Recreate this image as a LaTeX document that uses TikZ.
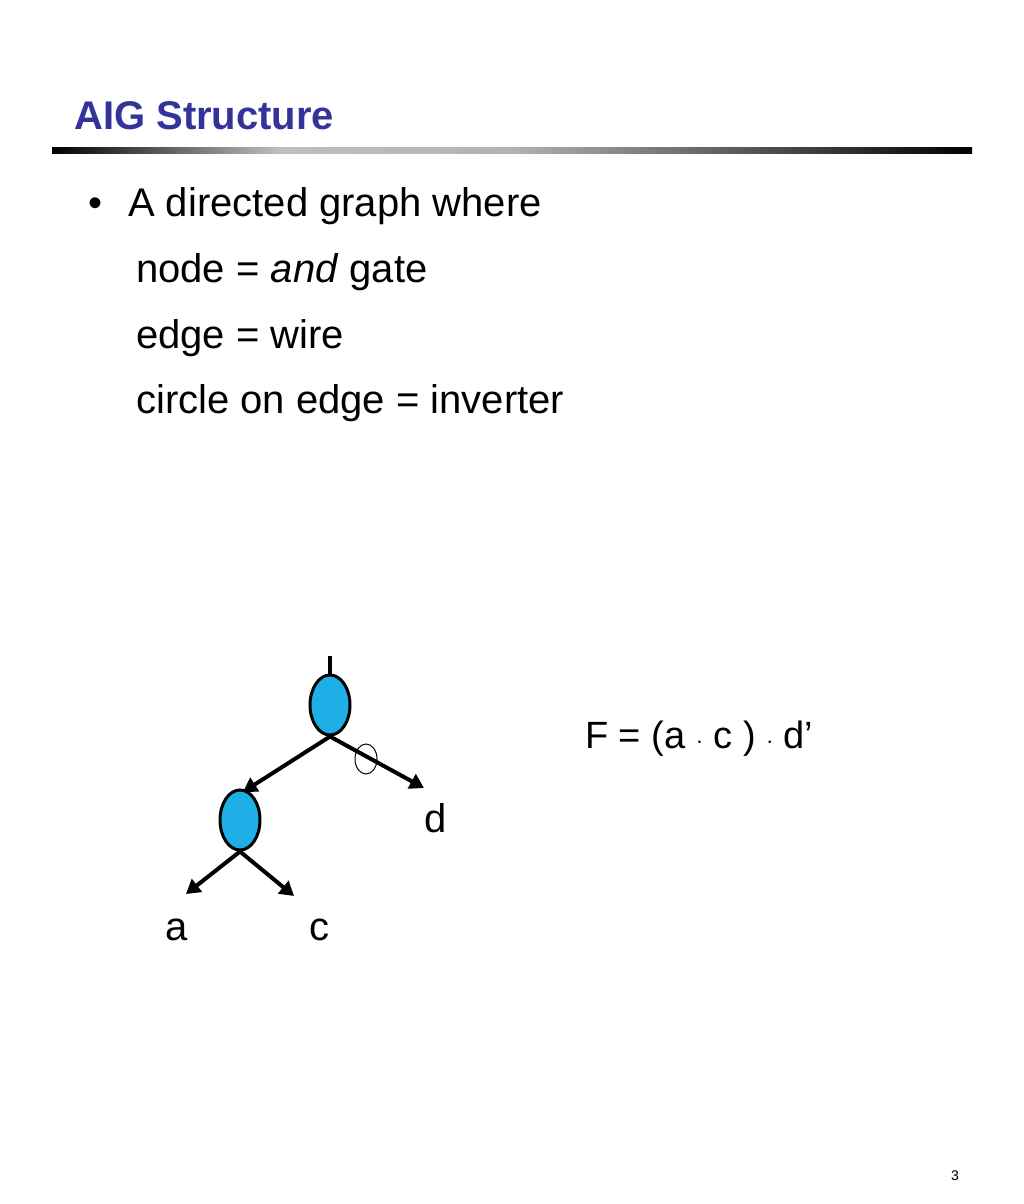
\documentclass[tikz,border=0pt]{standalone}
\usepackage{fontspec}
\setmainfont{Liberation Sans}
\usetikzlibrary{arrows.meta,shapes.geometric}
\definecolor{ttl}{RGB}{51,51,153}
\definecolor{gate}{RGB}{30,175,230}
\begin{document}
\begin{tikzpicture}[x=1pt,y=-1pt,
  gatenode/.style={draw=black,line width=3pt,fill=gate,ellipse,minimum width=40pt,minimum height=60pt,inner sep=0pt},
  edge/.style={line width=4pt,-{Triangle[length=14pt,width=16pt]}},
  big/.style={font=\fontsize{40}{48}\selectfont,anchor=base west,inner sep=0pt}]
\useasboundingbox (0,0) rectangle (1024,1204);
\node[anchor=base west,inner sep=0pt,text=ttl,font=\fontsize{40}{48}\selectfont\bfseries] (title) at (74,130) {AIG Structure};
\shade[left color=black,right color=gray!60,middle color=gray!50] (52,147) rectangle (512,153);
\shade[left color=gray!60,right color=black] (511,147) rectangle (972,153);
\node[big] (b) at (88,216) {•};
\node[big] (l1) at (128,216) {A directed graph where};
\node[big] (l2) at (136,282) {node = \textit{and} gate};
\node[big] (l3) at (136,348) {edge = wire};
\node[big] (l4) at (136,413) {circle on edge = inverter};
\node[gatenode] (g1) at (330,705) {};
\node[gatenode] (g2) at (240,820) {};
\coordinate (top) at (330,656);
\draw[line width=4pt] (top) -- (g1.north);
\node[font=\fontsize{40}{48}\selectfont,inner sep=0pt] (d) at (436,818) {d};
\node[font=\fontsize{40}{48}\selectfont,inner sep=0pt] (a) at (177,930) {a};
\node[font=\fontsize{40}{48}\selectfont,inner sep=0pt] (c) at (319,930) {c};
\coordinate (ea) at (186,894);
\coordinate (ec) at (294,896);
\coordinate (ed) at (424,788);
\coordinate (eg2) at (243,792);
\draw[edge] (g1.south) -- (eg2);
\draw[edge] (g1.south) -- (ed);
\draw[edge] (g2.south) -- (ea);
\draw[edge] (g2.south) -- (ec);
\draw[line width=1pt] (366,759) ellipse (11 and 15);
\node[anchor=base west,inner sep=0pt,font=\fontsize{38}{46}\selectfont] (F) at (585,748) {F = (a $\cdot$ c ) $\cdot$ d’};
\node[font=\fontsize{14}{16}\selectfont,inner sep=0pt] (pg) at (955,1176) {3};
\end{tikzpicture}
\end{document}
